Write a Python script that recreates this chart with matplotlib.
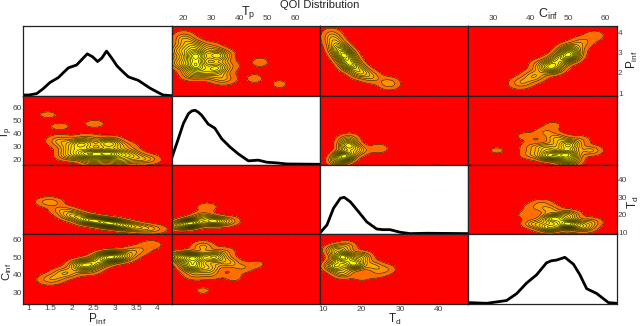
import numpy as np
import matplotlib
matplotlib.use("Agg")
import matplotlib.pyplot as plt

plt.rcParams['font.family'] = ['Liberation Sans', 'DejaVu Sans']
plt.rcParams['mathtext.fontset'] = 'custom'
plt.rcParams['mathtext.rm'] = 'Liberation Sans'

names = ["P", "Tp", "Td", "C"]
labels = {"P": r"P$_{\rm inf}$", "Tp": r"T$_{\rm p}$", "Td": r"T$_{\rm d}$", "C": r"C$_{\rm inf}$"}
limits = {"P": (0.867, 4.33), "Tp": (15.8, 69.1), "Td": (9.15, 47.9), "C": (23.4, 62.9)}
xticks = {"P": [1, 1.5, 2, 2.5, 3, 3.5, 4], "Tp": [20, 30, 40, 50, 60], "Td": [10, 20, 30, 40], "C": [30, 40, 50, 60]}
yticks = {"P": [1, 2, 3, 4], "Tp": [20, 30, 40, 50, 60], "Td": [10, 20, 30, 40], "C": [30, 40, 50, 60]}
bandwidth = {"P": 0.21, "Tp": 2.7, "Td": 1.8, "C": 2.1}

# marginal curves
curve_P_x = [0.87, 1.0, 1.18, 1.33, 1.49, 1.685, 1.8, 1.92, 2.11, 2.25, 2.36, 2.48, 2.6, 2.7, 2.81, 2.93, 3.05, 3.18, 3.32, 3.55, 3.82, 4.0, 4.13, 4.33]
curve_P_y = [0.01, 0.01, 0.03, 0.10, 0.19, 0.26, 0.33, 0.40, 0.44, 0.53, 0.60, 0.56, 0.49, 0.54, 0.64, 0.54, 0.43, 0.35, 0.27, 0.22, 0.11, 0.05, 0.01, 0.0]
curve_Tp_x = [15.8, 17.6, 20, 21.8, 23, 24.2, 25.4, 26.5, 28.9, 31.3, 33.7, 36.7, 39.7, 43.3, 46.9, 49.9, 53.5, 57.1, 69.1]
curve_Tp_y = [0.10, 0.31, 0.60, 0.74, 0.78, 0.79, 0.76, 0.72, 0.59, 0.53, 0.38, 0.26, 0.16, 0.06, 0.07, 0.04, 0.03, 0.015, 0.01]
curve_Td_x = [9.14, 10.9, 12.6, 14.4, 15.4, 17, 19.1, 21.3, 23.9, 25.5, 27.4, 30, 32.6, 37, 47.9]
curve_Td_y = [0.024, 0.135, 0.375, 0.52, 0.534, 0.47, 0.33, 0.18, 0.077, 0.067, 0.067, 0.03, 0.01, 0.015, 0.01]
curve_C_x = [23.4, 28.3, 33.6, 36.3, 38.9, 41.6, 44.2, 45.5, 46.9, 49.1, 51.4, 53.1, 54.9, 57.6, 60.7, 62.9]
curve_C_y = [0.02, 0.01, 0.05, 0.15, 0.30, 0.42, 0.59, 0.62, 0.63, 0.67, 0.57, 0.42, 0.22, 0.15, 0.02, 0.01]
curves = {"P": (curve_P_x, curve_P_y), "Tp": (curve_Tp_x, curve_Tp_y), "Td": (curve_Td_x, curve_Td_y), "C": (curve_C_x, curve_C_y)}

# estimated sample locations and weights behind each density panel
P_Tp_a = [2.38, 2.85, 2.25, 2.85, 3.3, 3.6, 1.95, 1.75, 2.0, 3.25, 2.5, 3.1, 1.7, 2.35, 2.9, 3.85, 2.53, 1.72, 1.44]
P_Tp_b = [24.5, 24.5, 32, 32, 24, 20.5, 23, 33, 28, 30, 19, 19, 36, 37, 35, 20, 47.5, 45.5, 54.5]
P_Tp_w = [1, 1.1, 0.75, 0.7, 0.5, 0.3, 0.4, 0.25, 0.4, 0.2, 0.4, 0.4, 0.14, 0.15, 0.15, 0.14, 0.145, 0.135, 0.125]

P_Td_a = [1.5, 1.8, 2.05, 2.43, 2.85, 3.2, 3.6, 3.95, 1.45]
P_Td_b = [26.5, 22.5, 19.5, 17, 15.5, 14, 12.7, 12, 28]
P_Td_w = [0.2, 0.3, 0.6, 1, 1.15, 0.75, 0.4, 0.22, 0.15]

P_C_a = [1.55, 1.85, 2.27, 2.6, 2.85, 3.15, 3.5, 3.85, 1.45, 2.4]
P_C_b = [38, 41, 45.5, 47, 50, 50.5, 53.5, 57, 36.5, 42.5]
P_C_w = [0.25, 0.45, 1, 0.6, 1.2, 0.7, 0.3, 0.2, 0.14, 0.25]

Tp_Td_a = [23, 30.7, 19, 27, 35, 28.5, 37]
Tp_Td_b = [15.5, 16.5, 14, 19, 16, 24.5, 17]
Tp_Td_w = [1.2, 0.85, 0.6, 0.4, 0.25, 0.2, 0.15]

Tp_C_a = [24, 23, 31, 29, 19, 36, 41, 27, 35, 24, 30, 27, 46.5, 38]
Tp_C_b = [49.6, 45, 50, 44, 50, 47, 44, 56, 53, 40, 40, 31, 46, 38.5]
Tp_C_w = [1.1, 1.0, 0.85, 0.5, 0.7, 0.4, 0.22, 0.35, 0.2, 0.25, 0.2, 0.125, 0.125, 0.14]

Td_C_a = [15, 18, 13, 20, 13, 16, 23, 26.5, 15, 20, 24]
Td_C_b = [50, 46, 45, 50, 54, 56, 45, 43, 41, 39, 40.5]
Td_C_w = [1.2, 1.0, 0.8, 0.5, 0.5, 0.3, 0.3, 0.2, 0.4, 0.15, 0.14]

pairs = {
    ("P", "Tp"): (P_Tp_a, P_Tp_b, P_Tp_w),
    ("P", "Td"): (P_Td_a, P_Td_b, P_Td_w),
    ("P", "C"): (P_C_a, P_C_b, P_C_w),
    ("Tp", "Td"): (Tp_Td_a, Tp_Td_b, Tp_Td_w),
    ("Tp", "C"): (Tp_C_a, Tp_C_b, Tp_C_w),
    ("Td", "C"): (Td_C_a, Td_C_b, Td_C_w),
}

left_edges = [23.3, 171.7, 320.3, 468.3, 616.7]
top_edges = [26, 95.7, 165, 234.3, 304]
level_fracs = [0.07, 0.17, 0.24, 0.31, 0.38, 0.45, 0.52, 0.59, 0.66, 0.73, 0.80, 0.87, 0.94]
shades = ["#ff6e00", "#ff9000", "#ffaa00", "#ffb800", "#ffc400", "#ffd000", "#ffda00", "#ffe400", "#ffec00", "#fff200", "#fff800", "#ffff00", "#ffff00"]
W, H = 640, 326


def density(xname, yname):
    xs = np.linspace(*limits[xname], 200)
    ys = np.linspace(*limits[yname], 160)
    if (xname, yname) in pairs:
        a, b, w = pairs[(xname, yname)]
    else:
        b, a, w = pairs[(yname, xname)]
    gx, gy = np.meshgrid(xs, ys)
    z = np.zeros_like(gx)
    for ai, bi, wi in zip(a, b, w):
        z += wi * np.exp(-0.5 * (((gx - ai) / bandwidth[xname]) ** 2 + ((gy - bi) / bandwidth[yname]) ** 2))
    return xs, ys, z


fig = plt.figure(figsize=(6.4, 3.26), dpi=100)
for r, yname in enumerate(names):
    for c, xname in enumerate(names):
        x0, x1 = left_edges[c], left_edges[c + 1]
        y0, y1 = top_edges[r], top_edges[r + 1]
        ax = fig.add_axes([x0 / W, 1 - y1 / H, (x1 - x0) / W, (y1 - y0) / H])
        ax.set_xlim(limits[xname])
        if r == c:
            cx, cy = curves[xname]
            ax.plot(cx, cy, color="black", lw=2.0, solid_joinstyle="round")
            ax.set_ylim(0, 1)
            ax.set_yticks([])
            ax.set_xticks([])
        else:
            ax.set_ylim(limits[yname])
            ax.set_facecolor("#ff0000")
            xs, ys, z = density(xname, yname)
            lev = np.array(level_fracs) * z.max()
            ax.contourf(xs, ys, z, levels=list(lev) + [z.max() * 1.01], colors=shades)
            ax.contour(xs, ys, z, levels=lev, colors="#1a1a00", linewidths=0.4)
            ax.set_xticks(xticks[xname], [f"{t:g}" for t in xticks[xname]])
            ax.set_yticks(yticks[yname], [f"{t:g}" for t in yticks[yname]])
            ax.tick_params(length=1.5, width=0.4, direction="in", labelbottom=False, labelleft=False,
                           top=True, right=True, color="#444444")
        for s in ax.spines.values():
            s.set_linewidth(0.9)
            s.set_color("#222222")
        # outer tick labels alternate between the two sides
        if r == 3 and c in (0, 2):
            ax.tick_params(labelbottom=True, labelsize=6, pad=1.5, labelcolor="#444444")
        if r == 0 and c in (1, 3):
            ax.xaxis.set_tick_params(labeltop=True, labelsize=6, pad=3, labelcolor="#444444")
        if c == 0 and r in (1, 3):
            ax.tick_params(labelleft=True, labelsize=6, pad=1, labelcolor="#444444")
        if c == 3 and r in (0, 2):
            ax.yaxis.set_tick_params(labelright=True, labelsize=6, pad=1, labelcolor="#444444")

fig.text(0.5, 1 - 5.5 / H, "QOI Distribution", ha="center", va="center", fontsize=8, color="#222222")
fig.text(248 / W, 1 - 13 / H, labels["Tp"], ha="center", va="center", fontsize=9, color="#222222")
fig.text(548 / W, 1 - 14 / H, labels["C"], ha="center", va="center", fontsize=9, color="#222222")
fig.text(97 / W, 1 - 319.5 / H, labels["P"], ha="center", va="center", fontsize=8.5, color="#222222")
fig.text(395 / W, 1 - 319.5 / H, labels["Td"], ha="center", va="center", fontsize=8.5, color="#222222")
fig.text(6.8 / W, 1 - 133 / H, labels["Tp"], ha="center", va="center", rotation=90, fontsize=8, color="#222222")
fig.text(6.8 / W, 1 - 272 / H, labels["C"], ha="center", va="center", rotation=90, fontsize=8, color="#222222")
fig.text(632 / W, 1 - 60 / H, labels["P"], ha="center", va="center", rotation=90, fontsize=8.5, color="#222222")
fig.text(633 / W, 1 - 202 / H, labels["Td"], ha="center", va="center", rotation=90, fontsize=8.5, color="#222222")

fig.savefig("out.png", dpi=100)
